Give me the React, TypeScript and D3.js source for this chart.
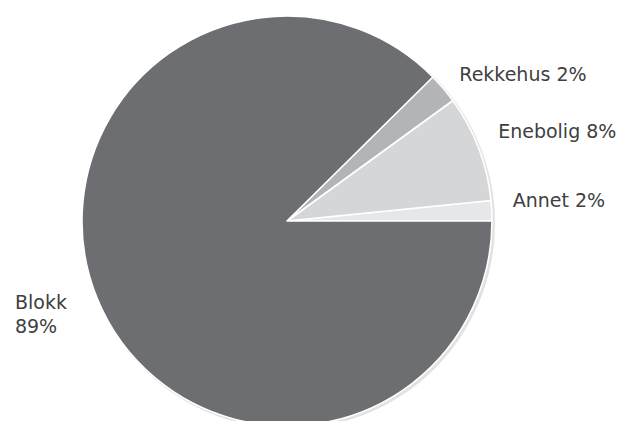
import React from "react";
import * as d3 from "d3";

const categories = ["Annet", "Enebolig", "Rekkehus", "Blokk"];
const values = [1.6, 8.4, 2.4, 87.6];
const labels = ["Annet 2%", "Enebolig 8%", "Rekkehus 2%", "Blokk|89%"];
const colors = ["#e6e7e8", "#d5d6d8", "#b3b4b7", "#6d6e72"];

export default function App() {
  const W = 640, H = 421;
  const cx = 287, cy = 221, r = 205;
  const pie = d3
    .pie<number>()
    .sort(null)
    .value((d) => d)
    .startAngle(Math.PI / 2)
    .endAngle(Math.PI / 2 - 2 * Math.PI);
  const arcs = pie(values);
  const arc = d3.arc<d3.PieArcDatum<number>>().innerRadius(0).outerRadius(r);
  const labelArc = d3.arc<d3.PieArcDatum<number>>().innerRadius(226).outerRadius(226);

  return (
    <svg
      width={W}
      height={H}
      style={{ position: "absolute", left: 0, top: 0, display: "block", background: "#fff" }}
      fontFamily="DejaVu Sans, Verdana, sans-serif"
    >
      <circle cx={cx + 2} cy={cy + 2} r={r + 1} fill="#e2e2e2" />
      <g transform={`translate(${cx},${cy})`}>
        {arcs.map((a, i) => (
          <path key={categories[i]} d={arc(a) || ""} fill={colors[i]} stroke="#fff" strokeWidth={1.6} strokeLinejoin="round" />
        ))}
        {arcs.map((a, i) => {
          const [lx, ly0] = labelArc.centroid(a);
          const mid = (a.startAngle + a.endAngle) / 2;
          // labels near the horizontal are lifted to keep them clear of the edge
          const lift = Math.abs(Math.cos(mid)) < 0.5 && lx > 0 ? 9 : 0;
          const ly = ly0 - lift;
          const lines = labels[i].split("|");
          if (lines.length > 1) {
            const x0 = lx - 63;
            return (
              <text key={"l" + i} fill="#404040" fontSize={19}>
                <tspan x={x0} y={ly + 2}>{lines[0]}</tspan>
                <tspan x={x0} y={ly + 26}>{lines[1]}</tspan>
              </text>
            );
          }
          return (
            <text key={"l" + i} x={lx} y={ly} dy="0.35em" fill="#404040" fontSize={19}>
              {lines[0]}
            </text>
          );
        })}
      </g>
    </svg>
  );
}
